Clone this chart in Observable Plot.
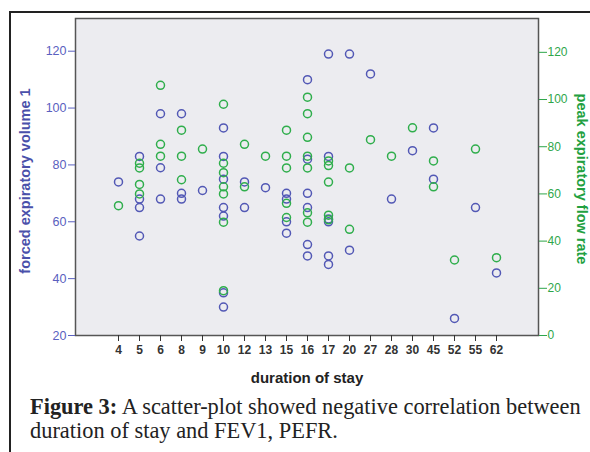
<!DOCTYPE html>
<html><head><meta charset="utf-8">
<script src="https://cdn.jsdelivr.net/npm/d3@7"></script>
<script src="https://cdn.jsdelivr.net/npm/@observablehq/plot@0.6"></script>
<style>
html,body{margin:0;padding:0;background:#fff;width:590px;height:452px;overflow:hidden;}
#frame{position:absolute;left:9px;top:11px;width:620px;height:480px;border-left:2px solid #222;border-top:2px solid #222;}
#chart{position:absolute;left:0;top:0;}
#caption{position:absolute;left:30px;top:395px;width:570px;font-family:"Liberation Serif",serif;font-size:22.4px;line-height:24px;color:#222;white-space:nowrap;}
</style></head><body>
<div id="frame"></div>
<div id="chart"></div>
<div id="caption"><b>Figure 3:</b> A scatter-plot showed negative correlation between<br>duration of stay and FEV1, PEFR.</div>
<script>
// categories (duration of stay)
const durations = ["4","5","6","8","9","10","12","13","15","16","17","20","27","28","30","45","52","55","62"];
// forced expiratory volume 1 (left axis), one list per duration
const fev1 = [
  [74],
  [83,68,65,55],
  [98,79,68],
  [98,70,68],
  [71],
  [93,83,75,65,62,35,30],
  [74,65],
  [72],
  [70,68,60,56],
  [110,82,70,65,52,48],
  [119,83,61,60,48,45],
  [119,50],
  [112],
  [68],
  [85],
  [93,75],
  [26],
  [65],
  [42]
];
// peak expiratory flow rate (right axis), one list per duration
const pefr = [
  [55],
  [73,71,64,60],
  [106,81,76],
  [87,76,66],
  [79],
  [98,73,69,63,60,48,19],
  [81,63],
  [76],
  [87,76,71,56,50],
  [101,94,84,76,71,52,48],
  [74,72,65,51,49],
  [71,45],
  [83],
  [76],
  [88],
  [74,63],
  [32],
  [79],
  [33]
];
const fevTicks = [20,40,60,80,100,120];
const pefrTicks = [0,20,40,60,80,100,120];

// map the right-axis scale onto the left-axis scale (0 -> 20, 120 -> ~119.6)
const k = 0.83;
const toY = p => 20 + p * k;

const fevPts = durations.flatMap((d, i) => fev1[i].map(v => ({d, v})));
const pefPts = durations.flatMap((d, i) => pefr[i].map(v => ({d, v})));

const blue = "#5258b5", green = "#2fae4c";

const chart = Plot.plot({
  width: 590, height: 392,
  marginLeft: 75, marginRight: 52, marginTop: 18, marginBottom: 57,
  style: {fontFamily: "'Liberation Sans', Arial, sans-serif", background: "transparent"},
  x: {type: "point", domain: durations, padding: 1.57},
  y: {domain: [20, 131.5]},
  marks: [
    Plot.frame({fill: "#ececf0", stroke: "#555", strokeWidth: 1.5}),
    Plot.axisY({anchor: "left", ticks: fevTicks, tickSize: 7, tickPadding: 2, color: "#5a60c0", fontSize: 12.5, label: null}),
    Plot.axisY({anchor: "right", ticks: pefrTicks.map(toY), tickFormat: d => String(Math.round((d - 20) / k)), tickSize: 8, tickPadding: 1, color: "#2ea64a", fontSize: 12, label: null}),
    Plot.axisX({ticks: durations, tickSize: 6, tickPadding: 4, color: "#333", fontSize: 12, fontWeight: "bold", label: null}),
    Plot.dot(fevPts, {x: "d", y: "v", r: 4, stroke: blue, strokeWidth: 1.5}),
    Plot.dot(pefPts, {x: "d", y: p => toY(p.v), r: 4, stroke: green, strokeWidth: 1.5}),
    Plot.text(["forced expiratory volume 1"], {frameAnchor: "left", dx: -50, dy: 4, rotate: -90, textAnchor: "middle", fontWeight: "bold", fontSize: 14.5, fill: "#4a50aa", lineAnchor: "middle"}),
    Plot.text(["peak expiratory flow rate"], {frameAnchor: "right", dx: 43, dy: 2, rotate: 90, textAnchor: "middle", fontWeight: "bold", fontSize: 14.5, fill: "#22a040", lineAnchor: "middle"}),
    Plot.text(["duration of stay"], {frameAnchor: "bottom", dy: 43, textAnchor: "middle", fontWeight: "bold", fontSize: 15, fill: "#222", lineAnchor: "middle"})
  ]
});
document.getElementById("chart").appendChild(chart);
</script>
</body></html>
